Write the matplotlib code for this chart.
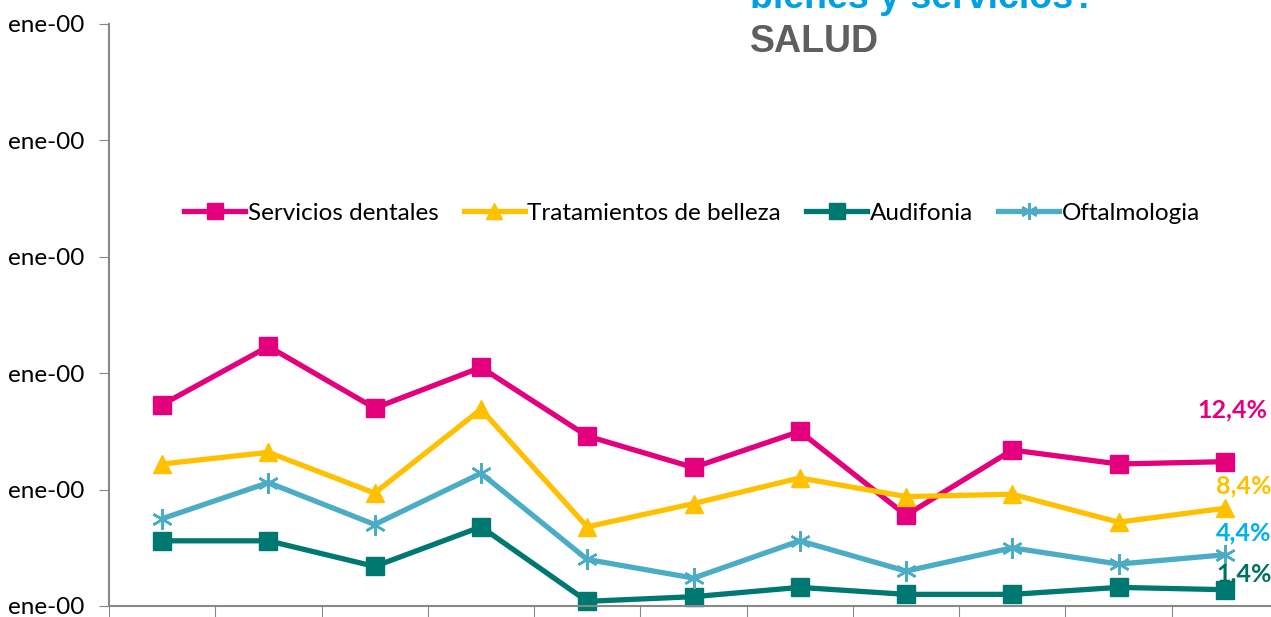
import matplotlib.pyplot as plt
import numpy as np

periods = list(range(11))
dentales = [17.3, 22.3, 17.0, 20.5, 14.6, 11.9, 15.0, 7.8, 13.4, 12.2, 12.4]
belleza = [12.2, 13.2, 9.7, 16.9, 6.8, 8.8, 11.0, 9.4, 9.6, 7.2, 8.4]
audifonia = [5.6, 5.6, 3.4, 6.8, 0.4, 0.8, 1.6, 1.0, 1.0, 1.6, 1.4]
oftalmologia = [7.5, 10.6, 7.0, 11.4, 4.0, 2.4, 5.6, 3.0, 5.0, 3.6, 4.4]

y_ticks = [0, 10, 20, 30, 40, 50]
y_labels = ['ene-00'] * 6
end_labels = ['12,4%', '8,4%', '4,4%', '1,4%']

plt.rcParams['font.family'] = ['Lato', 'DejaVu Sans']

fig = plt.figure(figsize=(12.71, 6.17), dpi=100)
ax = fig.add_axes([109 / 1271, 11 / 617, 1169 / 1271, 582 / 617])

series = [
    ('Servicios dentales', dentales, '#E4007C', 's', 13),
    ('Tratamientos de belleza', belleza, '#FFC000', '^', 13),
    ('Audifonia', audifonia, '#007872', 's', 13),
    ('Oftalmologia', oftalmologia, '#4BACC6', (6, 2, 0), 15),
]
for name, vals, col, mk, ms in series:
    ax.plot(periods, vals, color=col, lw=3.8, marker=mk, markersize=ms,
            markeredgecolor=col, markeredgewidth=1.8 if mk == (6, 2, 0) else 1,
            label=name, clip_on=False)

ax.set_xlim(-0.5, 10.5)
ax.set_ylim(0, 50)
ax.set_yticks(y_ticks)
ax.set_yticklabels(y_labels, fontsize=17.5)
ax.set_xticks(np.arange(-0.5, 11, 1))
ax.set_xticklabels([])
ax.tick_params(axis='y', length=7, color='#888888', pad=11)
ax.tick_params(axis='x', length=10, color='#888888', direction='out')
for s in ['top', 'right']:
    ax.spines[s].set_visible(False)
for s in ['left', 'bottom']:
    ax.spines[s].set_color('#888888')
    ax.spines[s].set_linewidth(1.5)

leg = ax.legend(loc='center', bbox_to_anchor=(692 / 1271, 1 - 213 / 617),
                bbox_transform=fig.transFigure, ncol=4, frameon=False,
                fontsize=17.5, handlelength=2.5, handletextpad=0.1,
                columnspacing=1.05)
for h in leg.legend_handles:
    h.set_markersize(12)

label_pos = [(1232, 410, '#E4007C'), (1244, 486, '#FFC000'),
             (1244, 533, '#00B0F0'), (1244, 574, '#00705F')]
for txt, (x, y, c) in zip(end_labels, label_pos):
    fig.text(x / 1271, 1 - y / 617, txt, color=c, fontsize=18,
             fontweight='bold', ha='center', va='center')

# title is cropped at the top edge in the original picture
fig.text(750 / 1271, 1 - 8 / 617, 'bienes y servicios?', color='#00A0E3',
         fontsize=27, fontweight='bold', family='Liberation Sans',
         ha='left', va='baseline')
fig.text(750 / 1271, 1 - 52 / 617, 'SALUD', color='#5F5F5F',
         fontsize=27, fontweight='bold', family='Liberation Sans',
         ha='left', va='baseline')

fig.savefig('out.png', dpi=100)
